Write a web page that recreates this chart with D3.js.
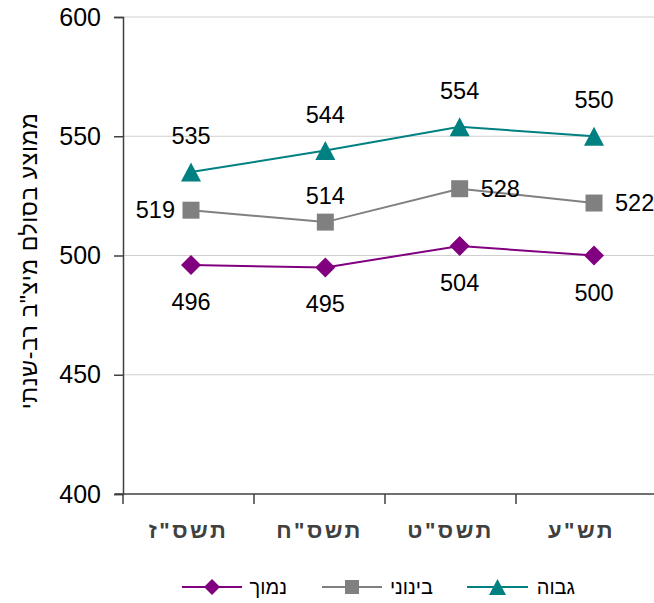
<!DOCTYPE html>
<html>
<head>
<meta charset="utf-8">
<script src="https://cdn.jsdelivr.net/npm/d3@7"></script>
<style>
  html, body { margin: 0; padding: 0; background: #fff; }
  svg { display: block; font-family: "Liberation Sans", Arial, sans-serif; }
</style>
</head>
<body>
<svg id="chart" width="654" height="603"></svg>
<script>
// ---- data ----
const categories = ['תשס"ז', 'תשס"ח', 'תשס"ט', 'תש"ע'];
const seriesNames = ["גבוה", "בינוני", "נמוך"];
const highValues = [535, 544, 554, 550];
const midValues = [519, 514, 528, 522];
const lowValues = [496, 495, 504, 500];
const yTicks = [400, 450, 500, 550, 600];
const yTitle = 'ממוצע בסולם מיצ"ב רב-שנתי';

// ---- styles ----
const colors = ["#008080", "#808080", "#800080"];
// custom marker shapes (w = full width)
const triShape = { draw(ctx, w) { const h = w * 0.95; ctx.moveTo(0, -h / 2); ctx.lineTo(w / 2, h / 2); ctx.lineTo(-w / 2, h / 2); ctx.closePath(); } };
const sqShape = { draw(ctx, w) { ctx.rect(-w / 2, -w / 2, w, w); } };
const diaShape = { draw(ctx, w) { ctx.moveTo(0, -w / 2); ctx.lineTo(w / 2, 0); ctx.lineTo(0, w / 2); ctx.lineTo(-w / 2, 0); ctx.closePath(); } };
const symbols = [triShape, sqShape, diaShape];
const symbolSizes = [20, 17, 20];
// label placement per series per point
const placements = [
  ["above", "above", "above", "above"],
  ["left", "above", "right", "right"],
  ["below", "below", "below", "below"]
];

const series = [highValues, midValues, lowValues].map((vals, i) => ({
  name: seriesNames[i], values: vals, color: colors[i], symbol: symbols[i], size: symbolSizes[i], place: placements[i]
}));

const svg = d3.select("#chart");
const W = 654;

const y = d3.scaleLinear().domain([400, 600]).range([494, 17]);
const xBand = d3.scaleBand().domain(categories).range([123, 647]).padding(0);
const xPt = d3.scalePoint().domain(categories).range([191, 594]);

// gridlines
svg.append("g").selectAll("line").data(yTicks.filter(t => t > 400)).join("line")
  .attr("x1", 123).attr("x2", W).attr("y1", d => y(d)).attr("y2", d => y(d))
  .attr("stroke", "#cfcfcf").attr("stroke-width", 1);

// y axis
const yAxis = svg.append("g").attr("transform", "translate(123,0)")
  .call(d3.axisLeft(y).tickValues(yTicks).tickSize(9).tickPadding(13));
yAxis.select(".domain").attr("stroke", "#404040").attr("stroke-width", 1.5);
yAxis.selectAll(".tick line").attr("stroke", "#404040").attr("stroke-width", 1.5);
yAxis.selectAll(".tick text").attr("font-size", 25).attr("fill", "#000")
  .attr("font-family", "'Liberation Sans', Arial, sans-serif");

// x axis
const xAxis = svg.append("g").attr("transform", "translate(0,494)")
  .call(d3.axisBottom(xBand).tickSize(0).tickPadding(28));
xAxis.select(".domain").remove();
xAxis.selectAll(".tick text").attr("font-size", 22).attr("font-weight", "bold")
  .attr("fill", "#404040").attr("letter-spacing", "2.5px")
  .attr("font-family", "'Liberation Sans', Arial, sans-serif");
svg.append("line").attr("x1", 115).attr("x2", W).attr("y1", 494).attr("y2", 494)
  .attr("stroke", "#404040").attr("stroke-width", 1.5);
// category boundary ticks
const boundaries = categories.map(c => xBand(c));
svg.append("g").selectAll("line").data(boundaries).join("line")
  .attr("x1", d => d).attr("x2", d => d).attr("y1", 494).attr("y2", 504)
  .attr("stroke", "#404040").attr("stroke-width", 1.5);

// y title
svg.append("text")
  .attr("transform", "translate(31,261) rotate(-90)")
  .attr("text-anchor", "middle").attr("dominant-baseline", "middle")
  .attr("font-size", 23).attr("letter-spacing", "0.6px").attr("fill", "#000")
  .attr("font-family", "'Liberation Sans', Arial, sans-serif")
  .text(yTitle);

// lines + markers + labels
const line = d3.line().x((d, i) => xPt(categories[i])).y(d => y(d));
series.forEach(s => {
  svg.append("path").datum(s.values).attr("d", line)
    .attr("fill", "none").attr("stroke", s.color).attr("stroke-width", 2);
  svg.append("g").selectAll("path").data(s.values).join("path")
    .attr("transform", (d, i) => `translate(${xPt(categories[i])},${y(d)})`)
    .attr("d", d3.symbol().type(s.symbol).size(s.size))
    .attr("fill", s.color);
  svg.append("g").selectAll("text").data(s.values).join("text")
    .attr("x", (d, i) => {
      const px = xPt(categories[i]);
      const p = s.place[i];
      if (p === "left") return px - 16;
      if (p === "right") return px + 21;
      return px;
    })
    .attr("y", (d, i) => {
      const py = y(d);
      const p = s.place[i];
      if (p === "above") return s.symbol === sqShape ? py - 26 : py - 36;
      if (p === "below") return py + 37;
      return py;
    })
    .attr("text-anchor", (d, i) => s.place[i] === "left" ? "end" : s.place[i] === "right" ? "start" : "middle")
    .attr("dominant-baseline", "central")
    .attr("font-size", 23.5).attr("fill", "#000")
    .text(d => d);
});

// legend (RTL order: first item at right)
const legendY = 587;
const legendItems = [
  { textRight: 575, lineX1: 467, lineX2: 528 },
  { textRight: 433, lineX1: 322, lineX2: 382 },
  { textRight: 287, lineX1: 182, lineX2: 242 }
];
const legendSizes = [17, 14, 16];
const lg = svg.append("g");
series.forEach((s, i) => {
  const it = legendItems[i];
  const g = lg.append("g");
  g.append("line").attr("x1", it.lineX1).attr("x2", it.lineX2)
    .attr("y1", legendY).attr("y2", legendY).attr("stroke", s.color).attr("stroke-width", 2);
  g.append("path").attr("transform", `translate(${(it.lineX1 + it.lineX2) / 2},${legendY})`)
    .attr("d", d3.symbol().type(s.symbol).size(legendSizes[i])).attr("fill", s.color);
  g.append("text").attr("x", it.textRight).attr("y", legendY)
    .attr("text-anchor", "end").attr("dominant-baseline", "central")
    .attr("font-size", 20).attr("fill", "#000")
    .attr("font-family", "'Liberation Sans', Arial, sans-serif")
    .text(s.name);
});
</script>
</body>
</html>
